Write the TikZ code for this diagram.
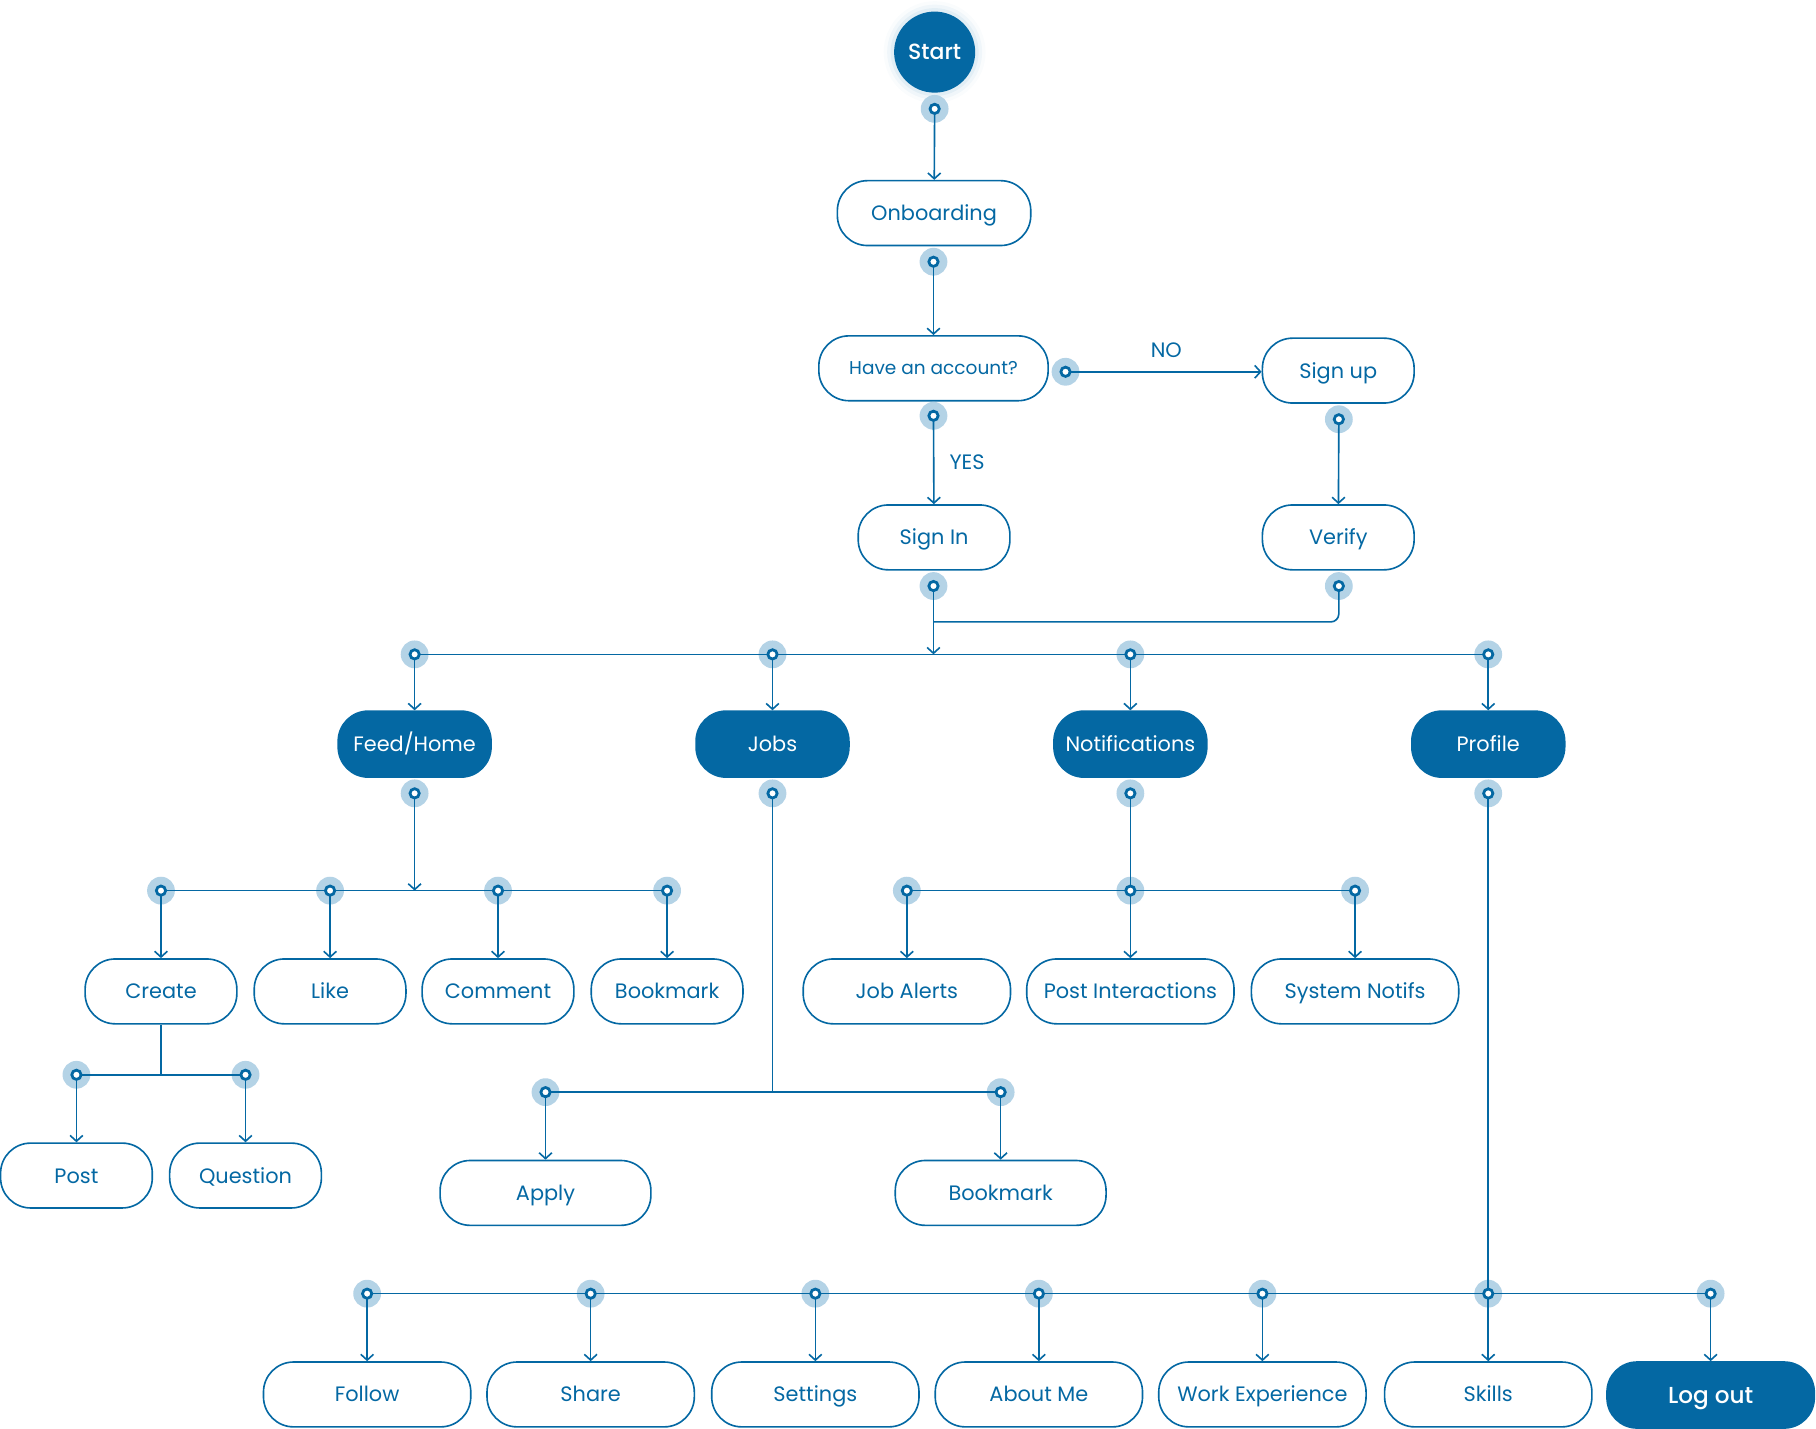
\documentclass[tikz,border=0pt]{standalone}
\usepackage{fontspec}
\setmainfont{Poppins}
\newfontfamily\poppinsmed{Poppins Medium}
\usetikzlibrary{arrows.meta}
\definecolor{flowblue}{HTML}{0468A3}
\definecolor{flowhalo}{HTML}{B4D3E6}

\tikzset{
  stepbox/.style={draw=flowblue, line width=1.4pt, rounded corners=26pt, minimum height=56pt,
    inner sep=0pt, text height=13pt, text depth=0pt, text=flowblue, font=\fontsize{18}{20}\selectfont},
  mainbox/.style={draw=flowblue, fill=flowblue, line width=1.4pt, rounded corners=26pt, minimum height=57pt,
    minimum width=132pt, inner sep=0pt, text height=13pt, text depth=0pt, text=white, font=\fontsize{18}{20}\selectfont},
  port/.style={circle, fill=flowhalo, minimum size=24pt, inner sep=0pt, outer sep=-7.5pt,
    path picture={\draw[flowblue, line width=2.4pt, fill=white] (path picture bounding box.center) circle (4pt);}},
  link/.style={draw=flowblue, line width=1.4pt},
  flow/.style={link, -{Straight Barb[length=5pt,width=11pt]}},
  tag/.style={text=flowblue, font=\fontsize{18}{20}\selectfont}
}

\begin{document}
\begin{tikzpicture}[x=1pt,y=-1pt]
\useasboundingbox (0,0) rectangle (1568,1233);

% Start
\foreach \r/\o in {44/0.02,41/0.04,38/0.06}
  \fill[flowblue, opacity=\o] (807,45) circle (\r);
\node[circle, fill=flowblue, minimum size=70pt, inner sep=0pt, text=white,
  font=\poppinsmed\fontsize{19}{20}\selectfont] (start) at (807,45) {Start};
\node[port] (pstart) at (807,94) {};

% Onboarding and account check
\node[stepbox, minimum width=167pt] (onboard) at (806.5,184) {Onboarding};
\node[port] (ponboard) at (806,226) {};
\node[stepbox, minimum width=198pt, text height=11.5pt, font=\fontsize{16}{18}\selectfont] (account) at (806,318) {Have an account?};
\node[port] (pno) at (920,321) {};
\node[port] (pyes) at (806,359) {};

\node[stepbox, minimum width=131pt] (signup) at (1155.5,320) {Sign up};
\node[port] (psignup) at (1156,362) {};
\node[stepbox, minimum width=131pt] (verify) at (1155.5,464) {Verify};
\node[port] (pverify) at (1156,506) {};
\node[stepbox, minimum width=131pt] (signin) at (806.5,464) {Sign In};
\node[port] (psignin) at (806,506) {};

\node[tag] (lno) at (1007,302) {NO};
\node[tag] (lyes) at (835,399) {YES};

\draw[flow] (pstart) -- (onboard);
\draw[flow] (ponboard) -- (account);
\draw[flow] (pno) -- (pno -| signup.west);
\draw[flow] (pyes) -- (signin);
\draw[flow] (psignup) -- (verify);

% Main sections
\coordinate (jverify) at (806,537);
\coordinate (jmain) at (806,565);
\draw[link, rounded corners=7pt] (pverify) |- (jverify);
\draw[flow] (psignin) -- (jmain);

\foreach \name/\x/\txt in {feed/358/Feed\slash Home, jobs/667/Jobs, notif/976/Notifications, profile/1285/Profile} {
  \node[port] (p\name) at (\x,565) {};
  \node[mainbox] (\name) at (\x,642.5) {\txt};
  \node[port] (q\name) at (\x,685) {};
  \draw[flow] (p\name) -- (\name);
}
\draw[link] (pfeed) -- (pjobs) -- (pnotif) -- (pprofile);

% Feed branch
\foreach \name/\x/\txt in {create/139/Create, like/285/Like, comment/430/Comment, fbookmark/576/Bookmark} {
  \node[port] (p\name) at (\x,769) {};
  \node[stepbox, minimum width=131pt] (\name) at (\x,856) {\txt};
  \draw[flow] (p\name) -- (\name);
}
\coordinate (jfeed) at (358,769);
\draw[flow] (qfeed) -- (jfeed);
\draw[link] (pcreate) -- (plike) -- (pcomment) -- (pfbookmark);

% Create branch
\coordinate (jcreate) at (139,928);
\draw[link] (create) -- (jcreate);
\foreach \name/\x/\txt in {post/66/Post, question/212/Question} {
  \node[port] (p\name) at (\x,928) {};
  \node[stepbox, minimum width=131pt] (\name) at (\x,1015) {\txt};
  \draw[flow] (p\name) -- (\name);
}
\draw[link] (ppost) -- (pquestion);

% Jobs branch
\coordinate (jjobs) at (667,943);
\draw[link] (qjobs) -- (jjobs);
\foreach \name/\x/\txt in {apply/471/Apply, jbookmark/864/Bookmark} {
  \node[port] (p\name) at (\x,943) {};
  \node[stepbox, minimum width=182pt] (\name) at (\x,1030) {\txt};
  \draw[flow] (p\name) -- (\name);
}
\draw[link] (papply) -- (pjbookmark);

% Notifications branch
\foreach \name/\x/\txt in {jobalerts/783/Job Alerts, interact/976/Post Interactions, system/1170/System Notifs} {
  \node[port] (p\name) at (\x,769) {};
  \node[stepbox, minimum width=179pt] (\name) at (\x,856) {\txt};
  \draw[flow] (p\name) -- (\name);
}
\draw[link] (qnotif) -- (pinteract);
\draw[link] (pjobalerts) -- (pinteract) -- (psystem);

% Profile branch
\foreach \name/\x/\txt in {follow/317/Follow, share/510/Share, settings/704/Settings, aboutme/897/About Me,
  work/1090/Work Experience, skills/1285/Skills} {
  \node[port] (p\name) at (\x,1117) {};
  \node[stepbox, minimum width=179pt] (\name) at (\x,1204) {\txt};
  \draw[flow] (p\name) -- (\name);
}
\node[port] (plogout) at (1477,1117) {};
\node[mainbox, minimum width=179pt, text height=14.5pt, font=\poppinsmed\fontsize{20}{22}\selectfont] (logout) at (1477,1204.5) {Log out};
\draw[flow] (plogout) -- (logout);
\draw[link] (qprofile) -- (pskills);
\draw[link] (pfollow) -- (pshare) -- (psettings) -- (paboutme) -- (pwork) -- (pskills) -- (plogout);
\end{tikzpicture}
\end{document}
